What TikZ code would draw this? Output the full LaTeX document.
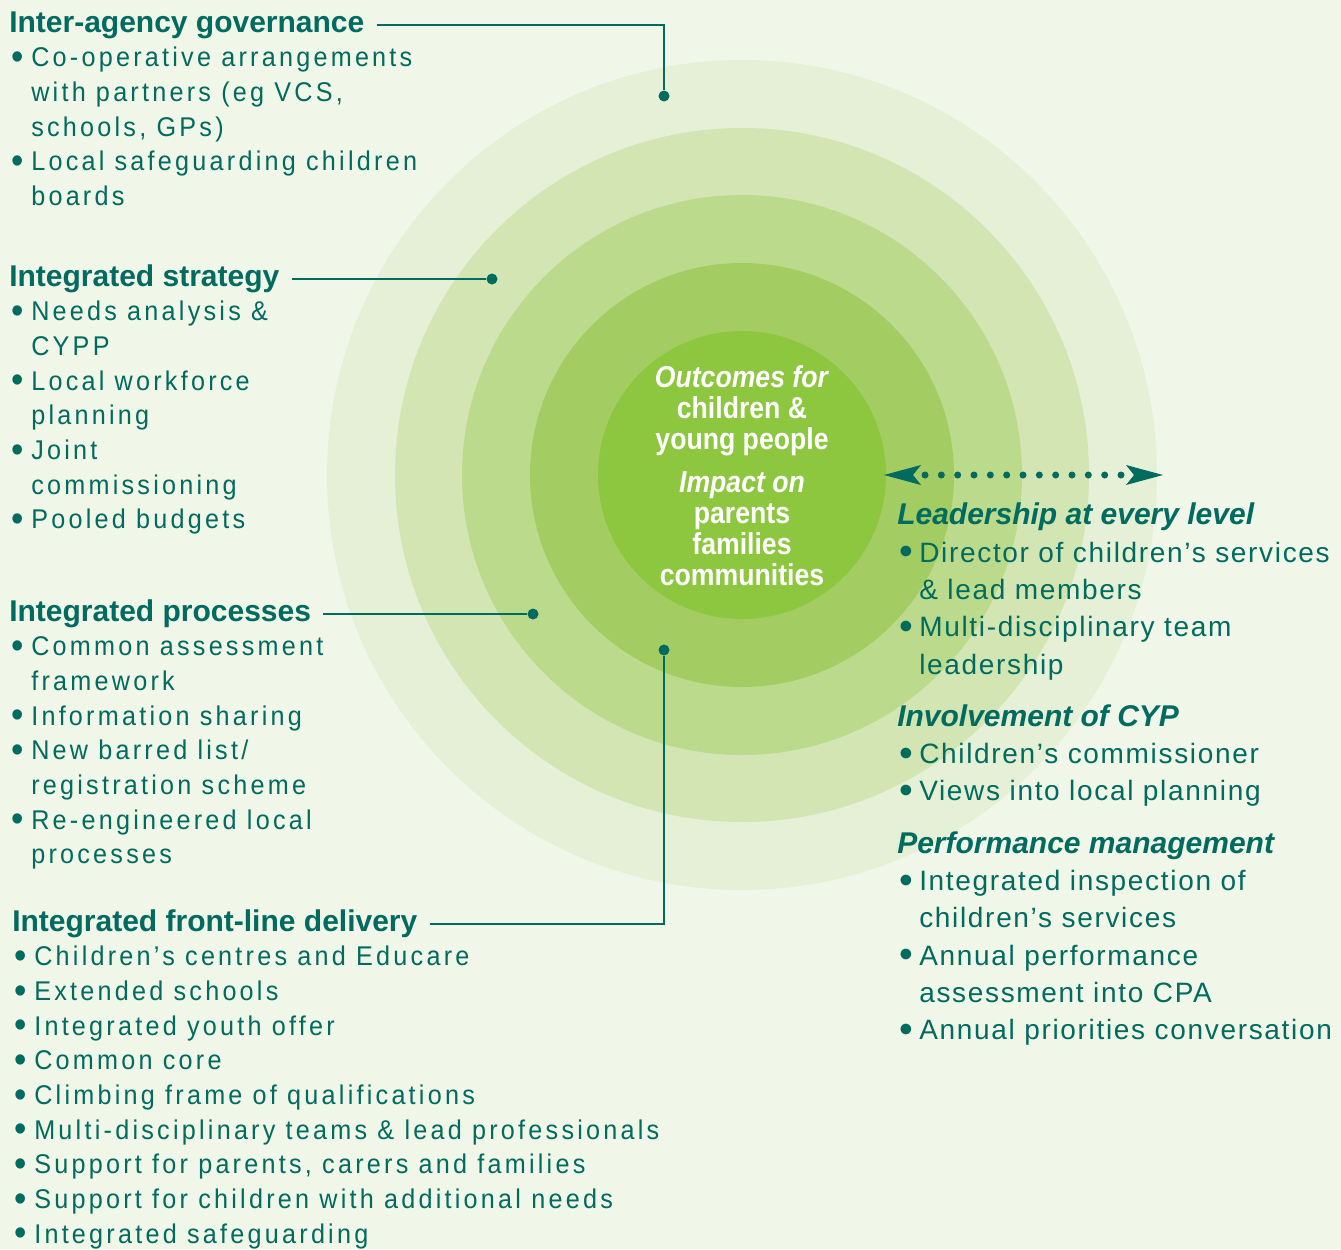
\documentclass[tikz,border=0pt]{standalone}
\usepackage{fontspec}
\setmainfont{Liberation Sans}
\newfontfamily\leftfont[LetterSpace=12,FakeStretch=0.93]{Liberation Sans}
\newfontfamily\rightfont[LetterSpace=6]{Liberation Sans}
\newfontfamily\corefont[FakeStretch=0.88]{Liberation Sans}
\usetikzlibrary{positioning}
\definecolor{ink}{HTML}{006B5E}
\definecolor{paper}{HTML}{F0F6E8}
\definecolor{ringa}{HTML}{E5F0D6}
\definecolor{ringb}{HTML}{D2E5B3}
\definecolor{ringc}{HTML}{BCDA8B}
\definecolor{ringd}{HTML}{A3CD62}
\definecolor{core}{HTML}{8DC63F}
\newcommand{\bul}{\makebox[16.5pt][l]{\hspace{2pt}\raisebox{-0.1em}{\scalebox{1.4}{\textbullet}}}}
\newcommand{\ind}{\hspace*{16.5pt}}
\newcommand{\sechead}[1]{{\normalfont\fontsize{22.5pt}{28pt}\selectfont\bfseries\itshape #1}}

\begin{document}
\begin{tikzpicture}[x=0.75pt,y=-0.75pt,
  lhead/.style={font=\fontsize{22.5pt}{26pt}\selectfont\bfseries, text=ink, inner sep=0pt, anchor=base west, text height=15pt, text depth=4.5pt},
  llist/.style={font=\leftfont\fontsize{20.3pt}{26pt}\selectfont, text=ink, inner sep=0pt, align=left},
  rlist/.style={font=\rightfont\fontsize{21pt}{28pt}\selectfont, text=ink, inner sep=0pt, align=left, anchor=base west},
  dot/.style={circle, fill=ink, inner sep=0pt, minimum size=8.25pt},
  link/.style={draw=ink, line width=1.6pt, shorten <=9pt},
  dots/.style={draw=ink, line width=5.25pt, line cap=round, dash pattern=on 0pt off 12.25pt}]
\fill[paper] (0,0) rectangle (1341,1249);
\useasboundingbox (0,0) rectangle (1341,1249);

\coordinate (ctr) at (742,475);
\foreach \r/\c in {415/ringa,347/ringb,280/ringc,212/ringd,144/core}
  \fill[\c] (ctr) circle (\r);

% multi-line nodes sit on the baseline of their last line
\node[font=\corefont\fontsize{22.7pt}{23.25pt}\selectfont\bfseries, text=white, align=center, inner sep=0pt, anchor=base] (outcomes) at (742,585)
  {\textit{Outcomes for}\\children \&\\young people\\[9pt]\textit{Impact on}\\parents\\families\\communities};

\node[lhead] (gov) at (9,32) {Inter-agency governance};
\node[llist, below=130pt of gov.base west, anchor=base west] (govlist)
  {\bul Co-operative arrangements\\\ind with partners (eg VCS,\\\ind schools, GPs)\\
   \bul Local safeguarding children\\\ind boards};

\node[lhead] (strat) at (9,286) {Integrated strategy};
\node[llist, below=182pt of strat.base west, anchor=base west] (stratlist)
  {\bul Needs analysis \&\\\ind CYPP\\\bul Local workforce\\\ind planning\\
   \bul Joint\\\ind commissioning\\\bul Pooled budgets};

\node[lhead] (proc) at (9,621) {Integrated processes};
\node[llist, below=182pt of proc.base west, anchor=base west] (proclist)
  {\bul Common assessment\\\ind framework\\\bul Information sharing\\
   \bul New barred list/\\\ind registration scheme\\\bul Re-engineered local\\\ind processes};

\node[lhead] (front) at (12,931) {Integrated front-line delivery};
\node[llist, below=234pt of front.base west, anchor=base west] (frontlist)
  {\bul Children’s centres and Educare\\\bul Extended schools\\\bul Integrated youth offer\\
   \bul Common core\\\bul Climbing frame of qualifications\\
   \bul Multi-disciplinary teams \& lead professionals\\
   \bul Support for parents, carers and families\\
   \bul Support for children with additional needs\\\bul Integrated safeguarding};

\node[dot] (govdot) at (664,96) {};
\node[dot] (stratdot) at (492,279) {};
\node[dot] (procdot) at (533,614) {};
\node[dot] (frontdot) at (664,650) {};
\draw[link] (gov.east) -| (govdot);
\draw[link] (strat.east) -- (stratdot);
\draw[link] (proc.east) -- (procdot);
\draw[link] (front.east) -| (frontdot);

\coordinate (arrl) at (884,475);
\coordinate (arrr) at (1163,475);
\draw[dots] (arrl) ++(41,0) -- ++(196,0);
\fill[ink] (arrl) -- ++(37,-10) -- ++(-8,10) -- ++(8,10) -- cycle;
\fill[ink] (arrr) -- ++(-37,-10) -- ++(8,10) -- ++(-8,10) -- cycle;

\node[rlist] (lead) at (897,674)
  {\sechead{Leadership at every level}\\\bul Director of children’s services\\\ind \& lead members\\
   \bul Multi-disciplinary team\\\ind leadership};
\node[rlist, below=95pt of lead.base west, anchor=base west] (cyp)
  {\sechead{Involvement of CYP}\\\bul Children’s commissioner\\\bul Views into local planning};
\node[rlist, below=179.25pt of cyp.base west, anchor=base west] (perf)
  {\sechead{Performance management}\\\bul Integrated inspection of\\\ind children’s services\\
   \bul Annual performance\\\ind assessment into CPA\\\bul Annual priorities conversation};
\end{tikzpicture}
\end{document}
